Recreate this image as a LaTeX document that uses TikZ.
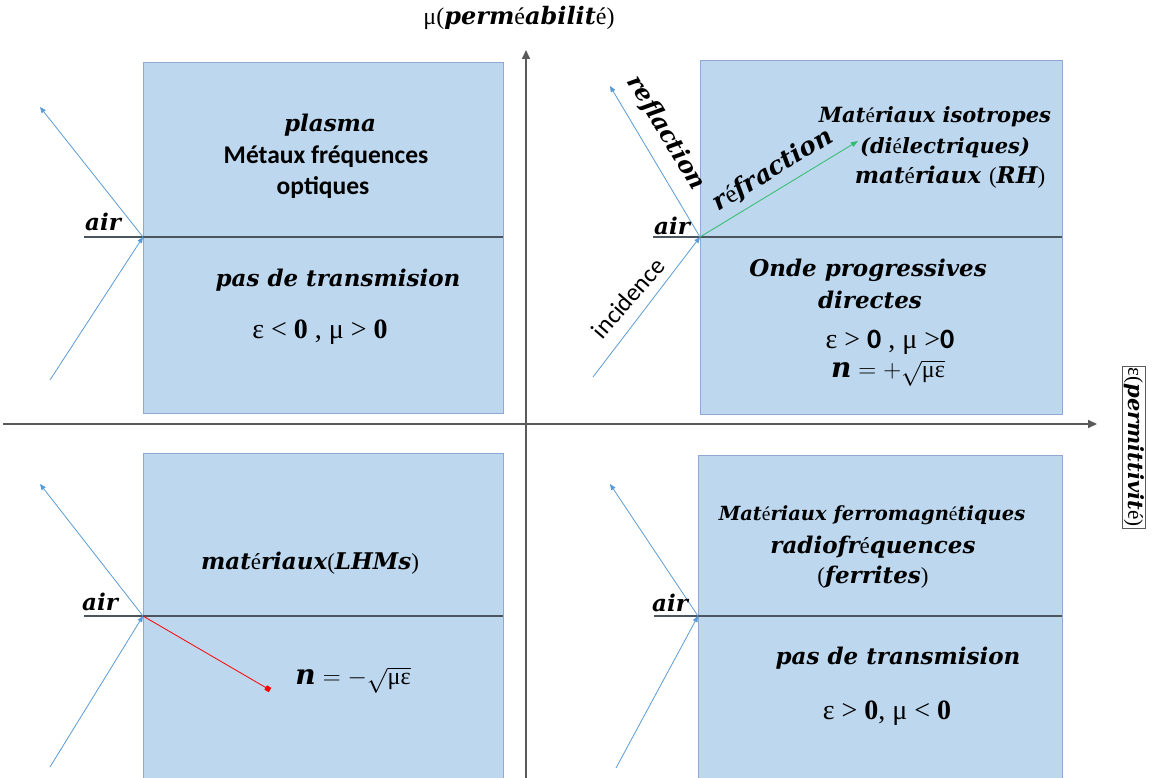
\documentclass[tikz,border=0pt]{standalone}
\usepackage{fontspec}
\setmainfont{Liberation Serif}
\newfontfamily\carl{Carlito}
\newfontfamily\dvs{DejaVu Serif}
\usetikzlibrary{arrows.meta}
\definecolor{boxfill}{HTML}{BDD7EE}
\definecolor{boxline}{HTML}{8EAAD0}
\definecolor{raycol}{HTML}{5B9BD5}
\definecolor{greenray}{HTML}{2EBD6B}
\definecolor{axiscol}{HTML}{5A5A5A}
\definecolor{ifacecol}{HTML}{4A5560}
\newcommand{\bit}{\dvs\bfseries\itshape}
\newcommand{\ue}{{\normalfont\mdseries é}}
\tikzset{
  box/.style={draw=boxline, fill=boxfill, line width=1pt, inner sep=0pt, anchor=north west},
  ray/.style={draw=raycol, line width=0.8pt, -{Triangle[length=6pt,width=5pt]}},
  iface/.style={draw=ifacecol, line width=1.1pt},
  axis/.style={draw=axiscol, line width=1.6pt, -{Triangle[length=9pt,width=8pt]}},
  bi/.style={font=\fontsize{23}{27}\selectfont\bit, align=center, inner sep=1pt},
  cb/.style={font=\fontsize{25.5}{30}\selectfont\carl\bfseries, align=center, inner sep=1pt},
  eq/.style={font=\fontsize{28}{32}\selectfont, inner sep=1pt},
  airlbl/.style={font=\fontsize{23}{27}\selectfont\bit, inner sep=0pt}
}
\begin{document}
\begin{tikzpicture}[x=1pt,y=-1pt]
\useasboundingbox (0,0) rectangle (1153,778);
% boxes
\node[box, minimum width=360pt, minimum height=351pt] (tlbox) at (143,62) {};
\node[box, minimum width=362pt, minimum height=354pt] (trbox) at (700,60) {};
\node[box, minimum width=360pt, minimum height=340pt] (blbox) at (143,453) {};
\node[box, minimum width=364pt, minimum height=340pt] (brbox) at (698,455) {};
% axes
\coordinate (vb) at (526,790);
\coordinate (vt) at (526,50);
\coordinate (hl) at (3,424);
\coordinate (hr) at (1097,424);
\draw[axis] (vb) -- (vt);
\draw[axis] (hl) -- (hr);
% interfaces and origins
\coordinate (tlO) at (143,237); \coordinate (tlL) at (84,237); \coordinate (tlE) at (503,237);
\coordinate (trO) at (700,237); \coordinate (trL) at (653,237); \coordinate (trE) at (1062,237);
\coordinate (blO) at (143,616); \coordinate (blL) at (84,616); \coordinate (blE) at (503,616);
\coordinate (brO) at (698,616); \coordinate (brL) at (654,616); \coordinate (brE) at (1062,616);
\draw[iface] (tlL) -- (tlE);
\draw[iface] (trL) -- (trE);
\draw[iface] (blL) -- (blE);
\draw[iface] (brL) -- (brE);
% rays
\coordinate (tlI) at (50,380); \coordinate (tlR) at (40,107);
\coordinate (trI) at (593,377); \coordinate (trR) at (610,86); \coordinate (trT) at (858,141);
\coordinate (blI) at (50,767); \coordinate (blR) at (40,484); \coordinate (blT) at (270,690);
\coordinate (brI) at (616,768); \coordinate (brR) at (610,484);
\draw[ray] (tlI) -- (tlO); \draw[ray] (tlO) -- (tlR);
\draw[ray] (trI) -- (trO); \draw[ray] (trO) -- (trR);
\draw[ray, draw=greenray, -{Triangle[length=7pt,width=5pt]}] (trO) -- (trT);
\draw[ray] (blI) -- (blO); \draw[ray] (blO) -- (blR);
\draw[ray, draw=red, -{Square[length=5pt,width=5pt]}] (blO) -- (blT);
\draw[ray] (brI) -- (brO); \draw[ray] (brO) -- (brR);
% air labels
\node[airlbl] (air1) at (103,222) {air};
\node[airlbl] (air2) at (672,226) {air};
\node[airlbl] (air3) at (100,602) {air};
\node[airlbl] (air4) at (670,603) {air};
% TL texts
\node[bi] (t1) at (330,125) {plasma};
\node[cb] (t2) at (326,157) {Métaux fréquences};
\node[cb] (t3) at (323,188) {optiques};
\node[bi] (t4) at (338,280) {pas de transmision};
\node[eq] (t5) at (320,332) {ε < \textbf{0} , μ > \textbf{0}};
% TR texts
\node[bi, font=\fontsize{21}{25}\selectfont\bit] (r1) at (935,117) {Mat\ue riaux isotropes};
\node[bi, font=\fontsize{21}{25}\selectfont\bit] (r2) at (945,148) {(di\ue lectriques)};
\node[bi] (r3) at (950,177) {mat\ue{\dvs\bfseries riaux} {\normalfont(}RH{\normalfont)}};
\node[bi] (r4) at (868,270) {Onde progressives};
\node[bi] (r5) at (870,300) {directes};
\node[eq] (r6) at (890,342) {ε > {\carl\bfseries 0} , μ >{\carl\bfseries 0}};
\node[eq] (r7) at (888,373) {{\bit n} $= +\sqrt{\hbox{\fontsize{24}{28}\selectfont με}}$};
\node[bi, font=\fontsize{25}{29}\selectfont\bit, rotate=31.5] (r8) at (773,170) {r\ue fraction};
\node[bi, font=\fontsize{24}{28}\selectfont\bit, rotate=-59] (r9) at (666,133) {reflaction};
\node[font=\fontsize{25}{29}\selectfont\carl, rotate=49, inner sep=1pt] (r10) at (628,298) {incidence};
% BL texts
\node[bi] (b1) at (310,563) {mat\ue riaux{\normalfont(}LHMs{\normalfont)}};
\node[eq] (b2) at (353,680) {{\bit n} $= -\sqrt{\hbox{\fontsize{24}{28}\selectfont με}}$};
% BR texts
\node[bi, font=\fontsize{19.5}{23}\selectfont\bit] (c1) at (872,515) {Mat\ue riaux ferromagn\ue tiques};
\node[bi] (c2) at (873,547) {radiofr\ue quences};
\node[bi] (c3) at (873,577) {{\normalfont(}ferrites{\normalfont)}};
\node[bi] (c4) at (898,658) {pas de transmision};
\node[eq] (c5) at (887,713) {ε > \textbf{0}, μ < \textbf{0}};
% axis labels
\node[font=\fontsize{24}{28}\selectfont, inner sep=1pt] (mu) at (519,18) {μ({\bit perm}é{\bit abilit}é)};
\node[font=\fontsize{21}{25}\selectfont, draw=axiscol, line width=0.6pt, inner sep=1.5pt, rotate=-90] (eps) at (1134,447) {ε({\bit permittivit}é)};
\end{tikzpicture}
\end{document}
